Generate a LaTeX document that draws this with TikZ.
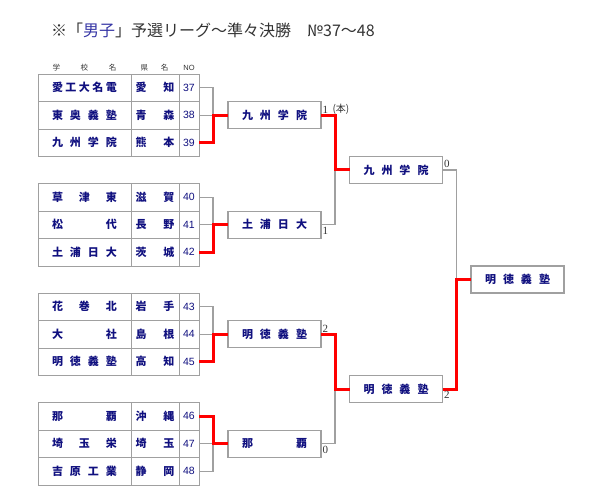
\documentclass[tikz,border=0pt]{standalone}
\usepackage{fontspec}
\newfontfamily\jpfont{Noto Sans CJK JP}
\newfontfamily\numfont{Liberation Sans}
\newfontfamily\scorefont{Liberation Serif}
\usetikzlibrary{positioning}

\definecolor{linegray}{HTML}{A0A0A0}
\definecolor{schoolblue}{HTML}{10107F}
\definecolor{titlegray}{HTML}{333333}
\definecolor{boyblue}{HTML}{3535A5}
\definecolor{winred}{HTML}{FF0000}

% spread the characters of a name over a fixed width
\newcommand{\jsp}[2][65pt]{\makebox[#1][s]{#2}}

\begin{document}
\begin{tikzpicture}[
    x=1pt, y=-1pt,
    node distance=0pt,
    cell/.style={rectangle, draw=linegray, line width=0.9pt, minimum height=27.5pt, inner sep=0pt, outer sep=0pt, text=schoolblue, font=\jpfont\bfseries\fontsize{11}{12}\selectfont},
    school/.style={cell, minimum width=93pt},
    pref/.style={cell, minimum width=48pt},
    num/.style={cell, minimum width=20pt, font=\numfont\fontsize{10.5}{12}\selectfont},
    head/.style={inner sep=0pt, text=titlegray, font=\jpfont\fontsize{7.5}{8}\selectfont},
    block/.style={rectangle, draw=linegray, line width=1.2pt, fill=white, minimum width=93pt, minimum height=27pt, inner sep=0pt, outer sep=0pt, text=schoolblue, font=\jpfont\bfseries\fontsize{11}{12}\selectfont},
    score/.style={inner xsep=1.5pt, inner ysep=2pt, text=titlegray, font=\scorefont\fontsize{11}{12}\selectfont},
    line/.style={draw=linegray, line width=1.2pt},
    win/.style={draw=winred, line width=3pt}
]
\useasboundingbox (0,0) rectangle (600,500);

% title
\node[anchor=base west, inner sep=0pt, text=titlegray, font=\jpfont\fontsize{16}{18}\selectfont] (title) at (51,37)
    {※「\textcolor{boyblue}{男子}」予選リーグ～準々決勝　№37～48};

% column heads
\node[head] (hschool) at (84.5,68) {\jsp[64pt]{学\hfill 校\hfill 名}};
\node[head] (hpref) at (154.5,68) {\jsp[28pt]{県\hfill 名}};
\node[head, font=\numfont\fontsize{7.5}{8}\selectfont] (hno) at (189,68) {NO};

% entry table
\foreach \no/\sch/\pref [count=\i from 0] in {
    37/{愛\hfill 工\hfill 大\hfill 名\hfill 電}/{愛\hfill 知},
    38/{東\hfill 奥\hfill 義\hfill 塾}/{青\hfill 森},
    39/{九\hfill 州\hfill 学\hfill 院}/{熊\hfill 本},
    40/{草\hfill 津\hfill 東}/{滋\hfill 賀},
    41/{松\hfill 代}/{長\hfill 野},
    42/{土\hfill 浦\hfill 日\hfill 大}/{茨\hfill 城},
    43/{花\hfill 巻\hfill 北}/{岩\hfill 手},
    44/{大\hfill 社}/{島\hfill 根},
    45/{明\hfill 徳\hfill 義\hfill 塾}/{高\hfill 知},
    46/{那\hfill 覇}/{沖\hfill 縄},
    47/{埼\hfill 玉\hfill 栄}/{埼\hfill 玉},
    48/{吉\hfill 原\hfill 工\hfill 業}/{静\hfill 岡}}{
    \pgfmathsetmacro{\ry}{87.75+27.5*mod(\i,3)+109.5*int(\i/3)}
    \node[school] (s\no) at (84.5,\ry) {\jsp{\sch}};
    \node[pref, right=of s\no] (p\no) {\jsp[39pt]{\pref}};
    \node[num, right=of p\no] (n\no) {\no};
}

% first round winners
\node[block] (r1a) at (274.5,115.25) {\jsp{九\hfill 州\hfill 学\hfill 院}};
\node[block] (r1b) at (274.5,224.75) {\jsp{土\hfill 浦\hfill 日\hfill 大}};
\node[block] (r1c) at (274.5,334.25) {\jsp{明\hfill 徳\hfill 義\hfill 塾}};
\node[block] (r1d) at (274.5,443.75) {\jsp{那\hfill 覇}};

% second round winners
\node[block] (r2a) at (396,170) {\jsp{九\hfill 州\hfill 学\hfill 院}};
\node[block] (r2b) at (396,389) {\jsp{明\hfill 徳\hfill 義\hfill 塾}};

% quarter-final winner
\node[block] (fin) at (517.5,279.5) {\jsp{明\hfill 徳\hfill 義\hfill 塾}};

% bracket joints
\coordinate (j1) at (213,115.25);
\coordinate (j2) at (213,224.75);
\coordinate (j3) at (213,334.25);
\coordinate (j4) at (213,443.75);
\coordinate (j5) at (335,170);
\coordinate (j6) at (335,389);
\coordinate (j7) at (456.5,279.5);

% losing lines
\path[line] (n37.east) -| (j1);
\path[line] (n38.east) -- (j1);
\path[line] (n40.east) -| (j2);
\path[line] (n41.east) -- (j2);
\path[line] (n43.east) -| (j3);
\path[line] (n44.east) -- (j3);
\path[line] (n47.east) -- (j4);
\path[line] (n48.east) -| (j4);
\path[line] (r1b.east) -| (j5);
\path[line] (r1d.east) -| (j6);
\path[line] (r2a.east) -| (j7);

% winning lines
\path[win] (n39.east) -| (j1) -- (r1a.west);
\path[win] (n42.east) -| (j2) -- (r1b.west);
\path[win] (n45.east) -| (j3) -- (r1c.west);
\path[win] (n46.east) -| (j4) -- (r1d.west);
\path[win] (r1a.east) -| (j5) -- (r2a.west);
\path[win] (r1c.east) -| (j6) -- (r2b.west);
\path[win] (r2b.east) -| (j7) -- (fin.west);

% scores
\node[score, anchor=south west] (sc1a) at (r1a.east) {1};
\node[score, right=1pt of sc1a, font=\jpfont\fontsize{10}{10}\selectfont] (hon) {(本)};
\node[score, anchor=north west] (sc1b) at (r1b.east) {1};
\node[score, anchor=south west] (sc1c) at (r1c.east) {2};
\node[score, anchor=north west] (sc1d) at (r1d.east) {0};
\node[score, anchor=south west] (sc2a) at (r2a.east) {0};
\node[score, anchor=north west] (sc2b) at (r2b.east) {2};
\end{tikzpicture}
\end{document}
